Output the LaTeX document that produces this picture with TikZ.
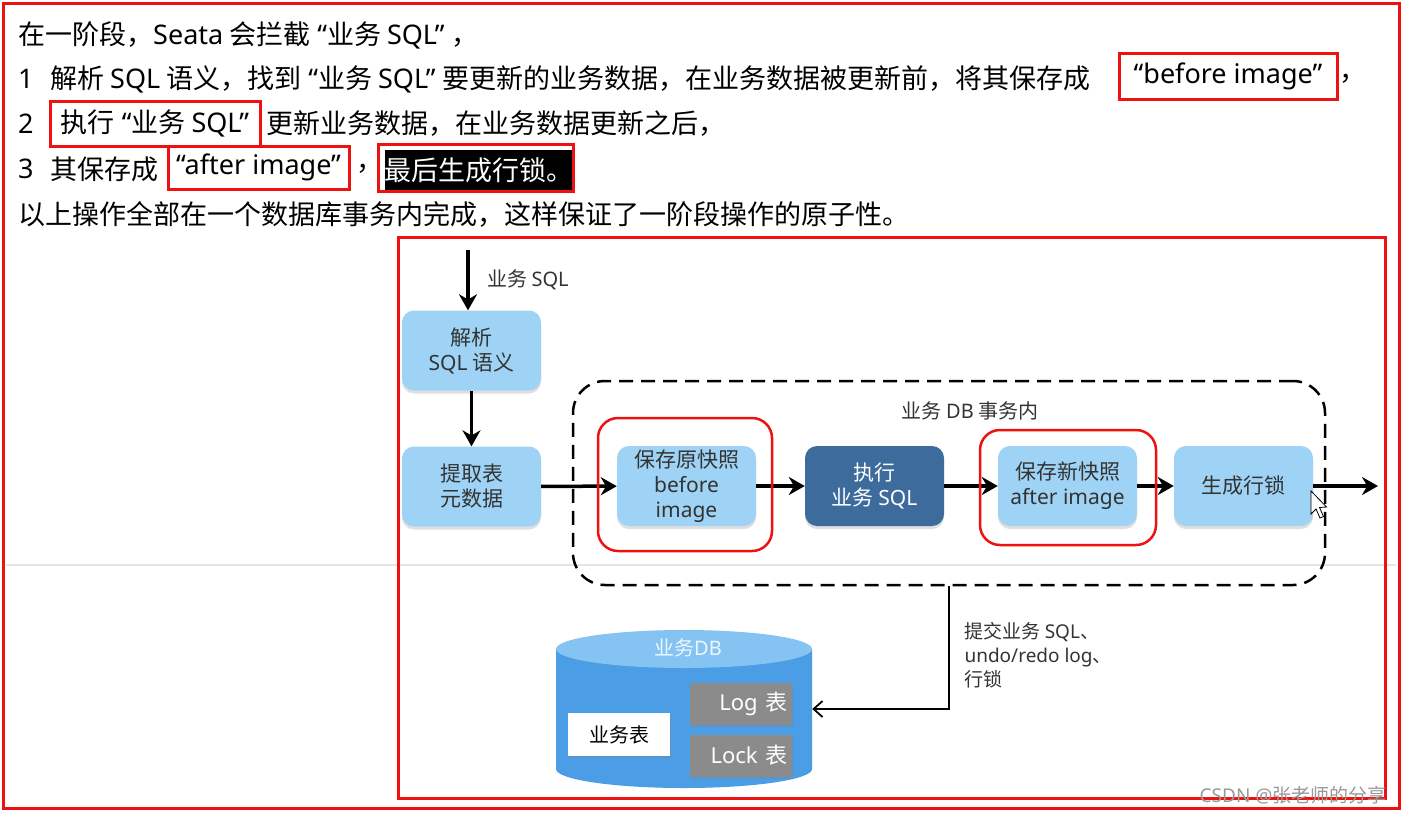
\documentclass[tikz,border=0pt]{standalone}
\usepackage{fontspec}
\setmainfont{Noto Sans CJK SC}
\newfontfamily\enfont{Noto Sans}
\newcommand\enf[1]{{\enfont #1}}
\newcommand\qo{\hspace{7pt}\enf{“}}
\newcommand\qc{\enf{”}\hspace{7pt}}
\usetikzlibrary{arrows.meta,shadows}

\definecolor{boxblue}{HTML}{9FD3F5}
\definecolor{darkblue}{HTML}{3D6C9C}
\definecolor{dbtop}{HTML}{84C3F2}
\definecolor{dbbody}{HTML}{4B9DE6}
\definecolor{tabgray}{HTML}{8B8B8B}
\definecolor{markred}{HTML}{EE1111}
\definecolor{ink}{HTML}{333333}

\tikzset{
  txt/.style={anchor=west, inner sep=0pt, font=\fontsize{27}{31}\selectfont},
  redline/.style={draw=markred, line width=3pt},
  redbox/.style={redline, inner sep=0pt, font=\fontsize{27}{31}\selectfont},
  ring/.style={draw=markred, line width=2.5pt, rounded corners=20pt},
  blk/.style={fill=boxblue, rounded corners=12pt, minimum width=139pt, minimum height=80pt,
    align=center, text=ink, font=\fontsize{21}{25}\selectfont,
    drop shadow={shadow xshift=0pt, shadow yshift=-3pt, opacity=0.25}},
  dblk/.style={blk, fill=darkblue, text=white},
  dashbox/.style={draw, line width=2.5pt, dash pattern=on 14pt off 8pt, rounded corners=32pt,
    minimum width=752pt, minimum height=204pt},
  tbl/.style={fill=white, minimum width=102pt, minimum height=43pt, text=black,
    font=\fontsize{20}{22}\selectfont, drop shadow={shadow xshift=1pt, shadow yshift=-2pt, opacity=0.3}},
  gtbl/.style={tbl, fill=tabgray, text=white, text width=93pt, align=right, inner xsep=4pt,
    minimum height=42pt, font=\fontsize{22}{24}\selectfont},
  arr/.style={->, line width=3.5pt},
  note/.style={text=ink, font=\fontsize{19}{24}\selectfont}
}

\begin{document}
\begin{tikzpicture}[x=1pt, y=-1pt, >={Stealth[length=16pt,width=18pt]}]
\useasboundingbox (0,0) rectangle (1404,814);
\fill[white] (0,0) rectangle (1404,814);

% text above the picture
\node[txt] (l1) at (18,35) {在一阶段，\enf{Seata} 会拦截\qo 业务 \enf{SQL}\qc，};

\node[txt] (n1) at (18,79) {\enf{1}};
\node[txt] (l2) at (50,79) {解析 \enf{SQL} 语义，找到\qo 业务 \enf{SQL}\qc 要更新的业务数据，在业务数据被更新前，将其保存成};
\node[redbox, minimum width=218pt, minimum height=46pt] (b1) at (1228,76) {\enf{“before image”}};
\node[txt] (c1) at (1339,79) {，};

\node[txt] (n2) at (18,124) {\enf{2}};
\node[redbox, minimum width=210pt, minimum height=45pt] (b2) at (155,123.5) {执行\qo 业务 \enf{SQL”}};
\node[txt] (l3) at (266,124) {更新业务数据，在业务数据更新之后，};

\node[txt] (n3) at (18,169) {\enf{3}};
\node[txt] (l4) at (50,169) {其保存成};
\node[redbox, minimum width=181pt, minimum height=43pt] (b3) at (258.5,167.5) {\enf{“after image”}};
\node[txt] (c3) at (356,169) {，};
\node[fill=black, text=white, inner sep=0pt, minimum width=188pt, minimum height=40pt,
  font=\fontsize{27}{31}\selectfont] (h) at (479,170) {最后生成行锁。};
\draw[redline] (378,144) rectangle (573,191);

\node[txt] (l5) at (18,214) {以上操作全部在一个数据库事务内完成，这样保证了一阶段操作的原子性。};

\draw[redline] (3,3) rectangle (1399,808);
\draw[black!10, line width=2pt] (6,565) -- (1396,565);

% the flow
\node[dashbox] (t) at (949,483) {};
\node[note, font=\fontsize{20}{24}\selectfont] (tl) at (970,411) {业务 \enf{DB} 事务内};

\node[blk] (p) at (471.5,350.5) {解析\\\enf{SQL} 语义};
\node[blk] (e) at (471.5,486.5) {提取表\\元数据};
\node[blk] (s1) at (686.5,486) {保存原快照\\\enf{before}\\\enf{image}};
\node[dblk] (x) at (874.5,486) {执行\\业务 \enf{SQL}};
\node[blk] (s2) at (1067.5,486) {保存新快照\\\enf{after image}};
\node[blk] (g) at (1243.5,486) {生成行锁};

\coordinate (in) at (468,250);
\coordinate (out) at (1378,486);

\draw[arr] (in) -- (in |- p.north) node[midway, right=14pt, note, font=\fontsize{20}{24}\selectfont] {业务 \enf{SQL}};
\draw[arr] (p) -- (e);
\draw[arr] (e) -- (s1);
\draw[arr] (s1) -- (x);
\draw[arr] (x) -- (s2);
\draw[arr] (s2) -- (g);
\draw[arr] (g) -- (out);

\draw[ring] (598,418) rectangle (772,551);
\draw[ring] (980,430) rectangle (1156,545);

% cursor
\filldraw[fill=white, draw=black, line width=0.8pt] (1311,491) -- ++(0,23) -- ++(5,-5)
  -- ++(4,9) -- ++(3.5,-1.5) -- ++(-4,-9) -- ++(7,-0.5) -- cycle;

% database
\fill[dbbody] (556,649) -- (556,769) arc[start angle=180, end angle=0, x radius=128, y radius=19]
  -- (812,649) -- cycle;
\fill[dbtop] (684,649) ellipse [x radius=128, y radius=19];
\node[inner sep=0pt, minimum width=256pt, minimum height=158pt] (db) at (684,709) {};
\node[text=white!85!dbtop, font=\fontsize{20}{22}\selectfont] (dbl) at (688,648) {业务\enf{DB}};

\node[tbl] (bt) at (619,734.5) {业务表};
\node[gtbl] (lg) at (740.5,704) {\enf{Log} 表};
\node[gtbl] (lk) at (740.5,755.5) {\enf{Lock} 表};

\draw[-{Straight Barb[length=9pt,width=16pt]}, line width=1.8pt] (t.south) |- (db.east);
\node[note, anchor=north west, align=left] (cl) at (961,619) {提交业务 \enf{SQL}、\\\enf{undo/redo log}、\\行锁};

\draw[redline] (398,237) rectangle (1385,798);
\node[anchor=east, text=black!40, font=\fontsize{19}{22}\selectfont] (wm) at (1390,795) {\enf{CSDN @}张老师的分享};
\end{tikzpicture}
\end{document}
